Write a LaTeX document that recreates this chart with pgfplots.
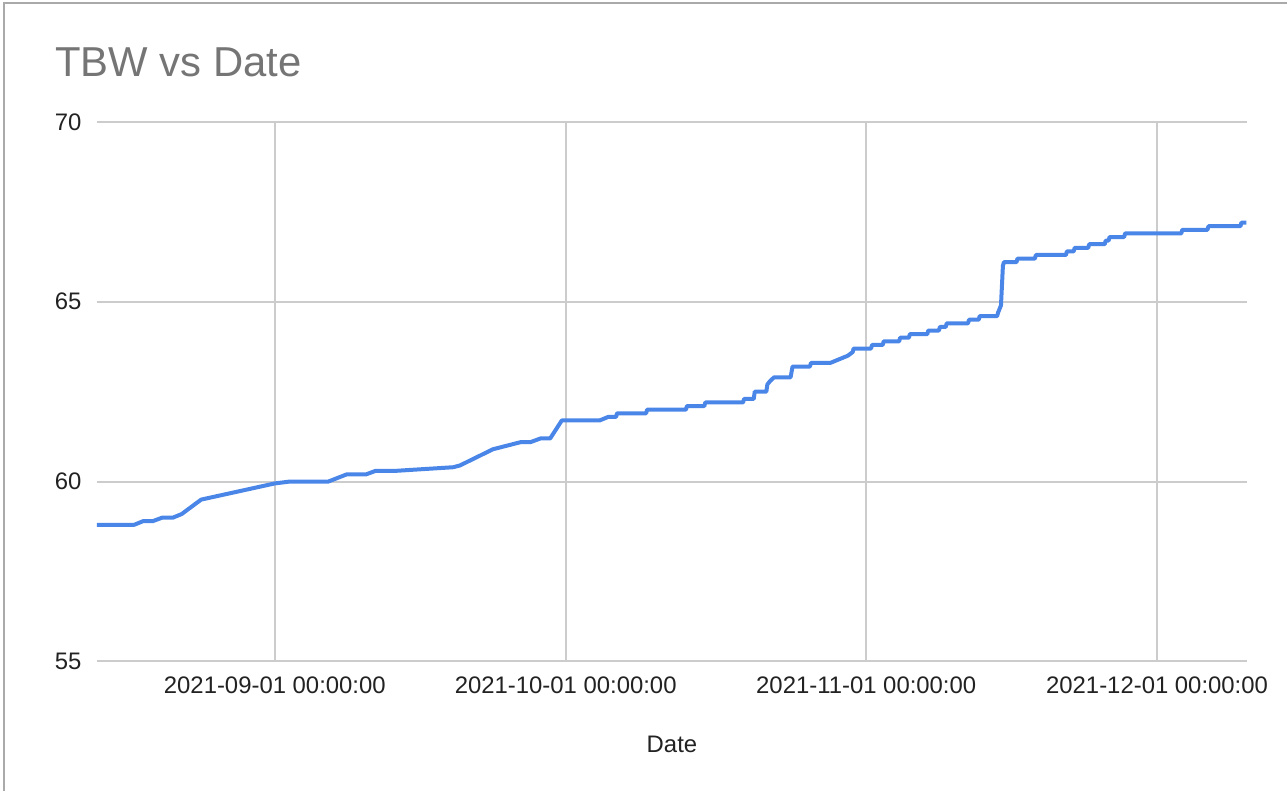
\documentclass[border=0pt]{standalone}
\usepackage{pgfplots}
\pgfplotsset{compat=1.18}
\usepackage{fontspec}
\setmainfont{Liberation Sans}
\definecolor{lineblue}{RGB}{74,134,232}
\definecolor{gridgray}{RGB}{204,204,204}
\definecolor{titlegray}{RGB}{117,117,117}
\definecolor{framegray}{RGB}{170,170,170}
\definecolor{textdark}{RGB}{34,34,34}
\begin{document}
\begin{tikzpicture}
\fill[white] (0bp,0bp) rectangle (644bp,396bp);
\draw[framegray, line width=1bp] (2bp,0bp) -- (2bp,394.5bp) -- (644bp,394.5bp);
\node[anchor=base west, font=\fontsize{21}{25}\selectfont, text=titlegray, inner sep=0pt] at (27.5bp,357.5bp) {TBW vs Date};
\begin{axis}[
  at={(48.5bp,65bp)}, anchor=south west,
  scale only axis, width=575.5bp, height=270bp,
  xmin=-18.35, xmax=100.28, ymin=55, ymax=70,
  xtick={0,30,61,91},
  xticklabels={2021-09-01 00:00:00,2021-10-01 00:00:00,2021-11-01 00:00:00,2021-12-01 00:00:00},
  ytick={55,60,65,70},
  grid=major, grid style={gridgray, line width=1bp},
  axis line style={draw=none}, major tick length=0pt,
  tick label style={font=\fontsize{12}{14}\selectfont, text=textdark},
  /pgf/number format/assume math mode=true,
  xticklabel style={anchor=north, inner sep=0pt, yshift=-7.5bp},
  yticklabel style={anchor=east, inner sep=0pt, xshift=-7.5bp},
  xlabel={Date},
  xlabel style={at={(axis description cs:0.5,0)}, anchor=base, inner sep=0pt, yshift=-45.5bp, font=\fontsize{12}{14}\selectfont, text=textdark},
  clip=false,
]
\addplot[lineblue, line width=2bp, line join=round] coordinates {
(-18.35,58.8) (-14.5,58.8) (-13.6,58.9) (-12.6,58.9) (-11.6,59.0) (-10.5,59.0)
(-9.6,59.1) (-7.6,59.5) (0,59.95) (1.5,60.0) (5.5,60.0) (7.4,60.2) (9.4,60.2)
(10.4,60.3) (12.5,60.3) (18.4,60.4) (19.1,60.45) (22.5,60.9) (25.4,61.1) (26.4,61.1)
(27.4,61.2) (28.4,61.2) (29.6,61.7) (33.5,61.7) (34.4,61.8) (35.2,61.8) (35.3,61.9)
(38.3,61.9) (38.4,62.0) (42.4,62.0) (42.5,62.1) (44.3,62.1) (44.4,62.2) (48.3,62.2)
(48.4,62.3) (49.4,62.3) (49.5,62.5) (50.7,62.5) (50.8,62.7) (51.1,62.8) (51.5,62.9)
(53.2,62.9) (53.4,63.2) (55.2,63.2) (55.3,63.3) (57.3,63.3) (59.1,63.5) (59.6,63.6)
(59.7,63.7) (61.5,63.7) (61.6,63.8) (62.7,63.8) (62.8,63.9) (64.4,63.9) (64.5,64.0)
(65.4,64.0) (65.5,64.1) (67.3,64.1) (67.4,64.2) (68.5,64.2) (68.6,64.3) (69.2,64.3)
(69.3,64.4) (71.5,64.4) (71.6,64.5) (72.6,64.5) (72.7,64.6) (74.5,64.6) (74.6,64.7)
(74.9,64.9) (75.1,66.0) (75.2,66.1) (76.5,66.1) (76.6,66.2) (78.4,66.2) (78.5,66.3)
(81.6,66.3) (81.7,66.4) (82.4,66.4) (82.5,66.5) (83.9,66.5) (84.0,66.6) (85.6,66.6)
(85.7,66.7) (86.0,66.7) (86.1,66.8) (87.6,66.8) (87.7,66.9) (93.5,66.9) (93.6,67.0)
(96.2,67.0) (96.3,67.1) (99.6,67.1) (99.7,67.2) (100.2,67.2)
};
\end{axis}
\end{tikzpicture}
\end{document}
